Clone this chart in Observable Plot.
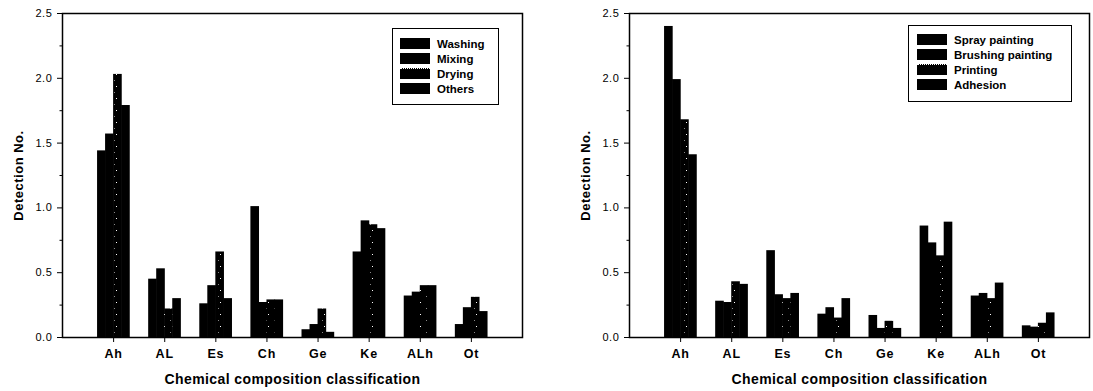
<!DOCTYPE html>
<html>
<head>
<meta charset="utf-8">
<script src="https://cdn.jsdelivr.net/npm/d3@7"></script>
<script src="https://cdn.jsdelivr.net/npm/@observablehq/plot@0.6"></script>
<style>
  html, body { margin: 0; padding: 0; background: #fff; }
  #wrap { display: flex; width: 1093px; height: 391px; }
  .panel { position: relative; }
  .legend { position: absolute; border: 1.2px solid #000; background: #fff;
            font-family: "Liberation Sans", Arial, sans-serif; font-weight: bold; font-size: 11.5px; box-sizing: border-box; }
  .legend .row { display: flex; align-items: center; height: 15px; }
  .legend .sw { width: 30px; height: 11px; background: #000; margin-right: 7px; }
  .legend .sw.pat { background: #000; border-top: 1px dotted #fff; box-sizing: border-box; }
</style>
</head>
<body>
<div id="wrap"></div>
<script>
const categories = ["Ah", "AL", "Es", "Ch", "Ge", "Ke", "ALh", "Ot"];

const leftSeries = ["Washing", "Mixing", "Drying", "Others"];
const washing = [1.44, 0.45, 0.26, 1.01, 0.06, 0.66, 0.32, 0.10];
const mixing  = [1.57, 0.53, 0.40, 0.27, 0.10, 0.90, 0.35, 0.23];
const drying  = [2.03, 0.22, 0.66, 0.29, 0.22, 0.87, 0.40, 0.31];
const others  = [1.79, 0.30, 0.30, 0.29, 0.04, 0.84, 0.40, 0.20];

const rightSeries = ["Spray painting", "Brushing painting", "Printing", "Adhesion"];
const spray    = [2.40, 0.28, 0.67, 0.18, 0.17, 0.86, 0.32, 0.09];
const brushing = [1.99, 0.27, 0.33, 0.23, 0.07, 0.73, 0.34, 0.08];
const printing = [1.68, 0.43, 0.30, 0.15, 0.125, 0.63, 0.30, 0.11];
const adhesion = [1.41, 0.41, 0.34, 0.30, 0.07, 0.89, 0.42, 0.19];

const yTicks = [0, 0.5, 1.0, 1.5, 2.0, 2.5];
const yMinor = [0.25, 0.75, 1.25, 1.75, 2.25];

function buildRows(names, values) {
  const rows = [];
  names.forEach((name, s) => {
    values[s].forEach((v, c) => rows.push({series: name, s, c, value: v}));
  });
  return rows;
}

const BW = 0.157;
const FONT = '"Liberation Sans", Arial, sans-serif';

function makeChart(names, values, opts) {
  const rows = buildRows(names, values);
  const plot = Plot.plot({
    width: opts.width,
    height: 391,
    marginLeft: opts.marginLeft,
    marginRight: opts.marginRight,
    marginTop: 13,
    marginBottom: 54,
    style: {fontFamily: FONT, background: "#fff", color: "#000", overflow: "visible"},
    x: {domain: [0, 9]},
    y: {domain: [0, 2.5]},
    color: {type: "identity"},
    marks: [
      Plot.rectY(rows, {
        x1: d => d.c + 1 + (d.s - 2) * BW,
        x2: d => d.c + 1 + (d.s - 1) * BW,
        y: "value",
        insetRight: -0.6,
        fill: d => d.s === 2 ? "url(#pat-" + opts.id + ")" : "#000"
      }),
      Plot.frame({stroke: "#000", strokeWidth: 1.5}),
      Plot.axisY(yTicks, {
        tickFormat: d3.format(".1f"), tickSize: 5, tickPadding: 5,
        fontSize: 11, label: "Detection No.", labelAnchor: "center", labelArrow: "none",
        labelOffset: 49
      }),
      Plot.axisY(yMinor, {tickSize: 2.5, text: null, label: null}),
      Plot.axisX(categories.map((_, i) => i + 1), {
        tickFormat: d => categories[d - 1],
        tickSize: 5, tickPadding: 7, fontSize: 12.5, fontWeight: "bold",
        label: "Chemical composition classification", labelAnchor: "center",
        labelArrow: "none", labelOffset: 46
      })
    ]
  });
  const ns = "http://www.w3.org/2000/svg";
  const defs = document.createElementNS(ns, "defs");
  defs.innerHTML = '<pattern id="pat-' + opts.id + '" width="8" height="12" patternUnits="userSpaceOnUse">' +
    '<rect width="8" height="12" fill="#000"/>' +
    '<rect x="4" y="2" width="1" height="1" fill="#fff"/>' +
    '<rect x="2" y="8" width="1" height="1" fill="#888"/></pattern>';
  plot.insertBefore(defs, plot.firstChild);
  plot.querySelectorAll('[aria-label="x-axis tick label"] text').forEach(t => {
    t.setAttribute("letter-spacing", "0.8");
  });
  plot.querySelectorAll('[aria-label="y-axis tick label"] text').forEach(t => {
    t.setAttribute("letter-spacing", "0.6");
  });
  plot.querySelectorAll('[aria-label="x-axis label"] text').forEach(t => {
    t.setAttribute("font-weight", "bold");
    t.setAttribute("font-size", "14");
    t.setAttribute("letter-spacing", "0.4");
  });
  plot.querySelectorAll('[aria-label="y-axis label"] text').forEach(t => {
    t.setAttribute("font-weight", "bold");
    t.setAttribute("font-size", "13");
    t.setAttribute("letter-spacing", "0.5");
  });

  const panel = document.createElement("div");
  panel.className = "panel";
  panel.style.width = opts.width + "px";
  panel.appendChild(plot);

  const leg = document.createElement("div");
  leg.className = "legend";
  Object.assign(leg.style, {left: opts.legend.left + "px", top: opts.legend.top + "px",
    width: opts.legend.width + "px", height: opts.legend.height + "px", padding: opts.legend.pad});
  names.forEach((n, i) => {
    const row = document.createElement("div");
    row.className = "row";
    const sw = document.createElement("div");
    sw.className = "sw" + (i === 2 ? " pat" : "");
    const tx = document.createElement("span");
    tx.textContent = n;
    row.appendChild(sw); row.appendChild(tx);
    leg.appendChild(row);
  });
  panel.appendChild(leg);
  return panel;
}

const wrap = document.getElementById("wrap");
wrap.appendChild(makeChart(leftSeries, [washing, mixing, drying, others], {
  id: "l", width: 546, marginLeft: 62, marginRight: 24,
  legend: {left: 392, top: 28, width: 107, height: 77, pad: "7px 0 0 7px"}
}));
wrap.appendChild(makeChart(rightSeries, [spray, brushing, printing, adhesion], {
  id: "r", width: 547, marginLeft: 83, marginRight: 4,
  legend: {left: 362, top: 25, width: 164, height: 77, pad: "6px 0 0 8px"}
}));
</script>
</body>
</html>
